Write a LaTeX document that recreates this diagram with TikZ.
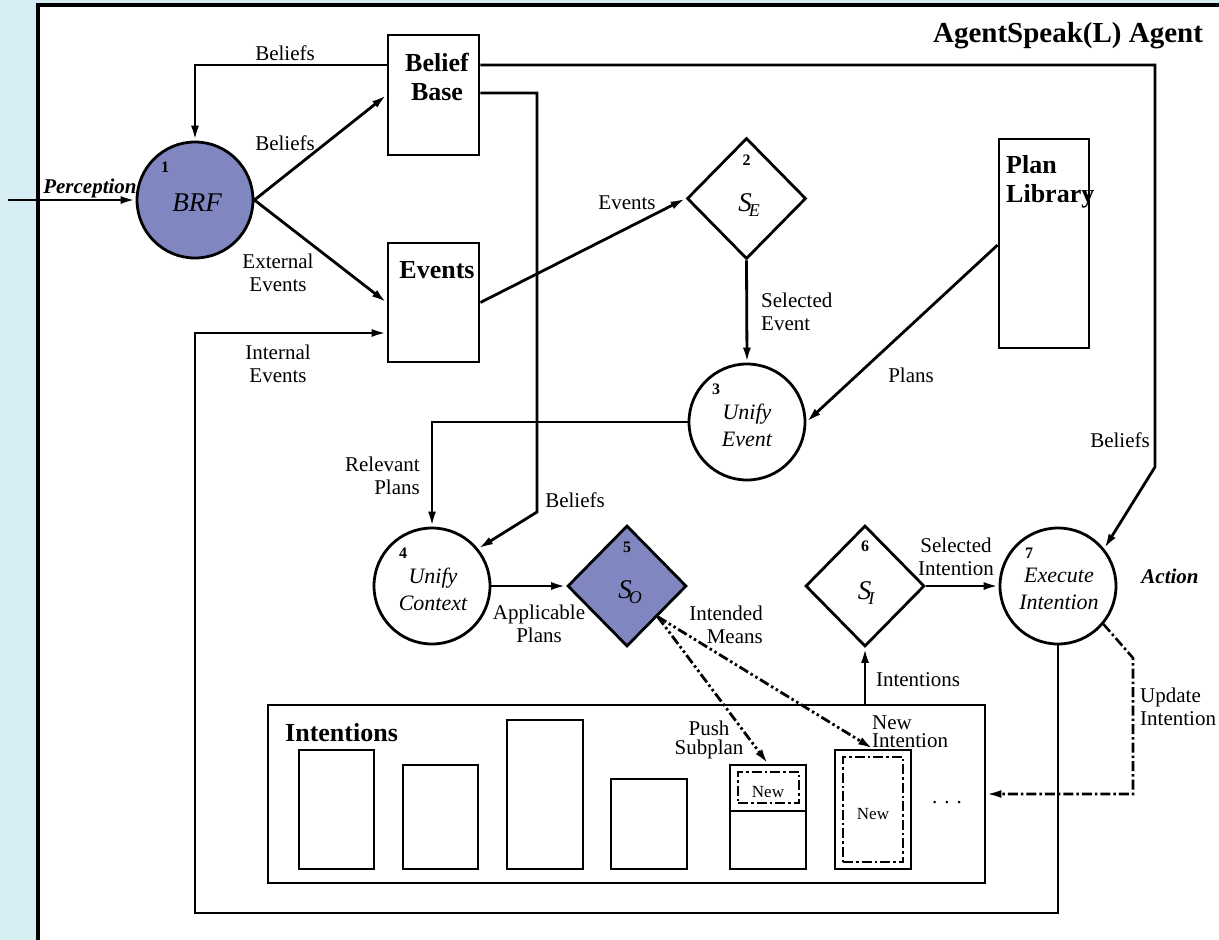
\documentclass[tikz,border=0pt]{standalone}
\usepackage{fontspec}
\setmainfont{Liberation Serif}
\usetikzlibrary{arrows.meta,shapes.geometric}
\definecolor{bgblue}{RGB}{214,238,243}
\definecolor{nodeblue}{RGB}{128,135,192}
\newcommand{\selnode}[1]{{\fontsize{27}{27}\selectfont\itshape S\kern-3pt\raisebox{-5pt}{\fontsize{18}{18}\selectfont #1}}}
\begin{document}
\begin{tikzpicture}[x=1pt,y=-1pt,
  lbl/.style={font=\fontsize{21}{23}\selectfont, inner sep=0pt, align=center},
  numlbl/.style={font=\fontsize{16}{16}\selectfont\bfseries, inner sep=0pt},
  boxlbl/.style={font=\fontsize{26}{29}\selectfont\bfseries, inner sep=0pt, align=center},
  inlbl/.style={font=\fontsize{22}{27}\selectfont\itshape, inner sep=0pt, align=center},
  bx/.style={draw, line width=2.8pt, rectangle, inner sep=0pt},
  ibx/.style={draw, line width=2.5pt, rectangle, inner sep=0pt},
  proc/.style={draw, line width=2.8pt, circle, minimum size=116pt, inner sep=0pt},
  sel/.style={draw, line width=2.8pt, diamond, minimum width=119pt, minimum height=121pt, inner sep=0pt},
  tip/.style={-{Latex[length=15pt,width=8pt]}},
  arr/.style={line width=2.8pt, tip},
  ddd/.style={line width=2.8pt, dash pattern=on 10pt off 3pt on 2.5pt off 3pt on 2.5pt off 3pt},
  dd/.style={line width=2.6pt, dash pattern=on 10pt off 3pt on 2.5pt off 3pt},
]
\useasboundingbox (0,0) rectangle (1219,940);
\clip (0,0) rectangle (1219,940);
\fill[bgblue] (0,0) rectangle (1219,940);
\draw[line width=3.2pt, fill=white] (38,5) rectangle (1240,960);

\node[font=\fontsize{29}{29}\selectfont\bfseries, inner sep=0pt] (title) at (1068,36) {AgentSpeak(L) Agent};

% nodes
\node[proc, fill=nodeblue] (brf) at (195,200) {};
\node[inlbl, font=\fontsize{27}{27}\selectfont\itshape] (brft) at (197,203) {BRF};
\node[numlbl] (n1) at (165,167) {1};

\node[bx, minimum width=91pt, minimum height=120pt] (bb) at (433.5,95) {};
\node[boxlbl] (bbt) at (437,77) {Belief\\Base};

\node[bx, minimum width=91pt, minimum height=119pt] (ev) at (433.5,302.5) {};
\node[boxlbl] (evt) at (437,270) {Events};

\node[sel] (se) at (746.5,198.5) {};
\node[inner sep=0pt] (set) at (749,205) {\selnode{E}};
\node[numlbl] (n2) at (746.5,160) {2};

\node[bx, minimum width=90pt, minimum height=209pt] (pl) at (1044,243.5) {};
\node[boxlbl, align=left, anchor=west] (plt) at (1006,182) {Plan\\Library};

\node[proc] (ue) at (747,422) {};
\node[inlbl] (uet) at (747,425) {Unify\\Event};
\node[numlbl] (n3) at (716,389) {3};

\node[proc] (uc) at (432,586) {};
\node[inlbl] (uct) at (433,589) {Unify\\Context};
\node[numlbl] (n4) at (403,553) {4};

\node[sel, fill=nodeblue] (so) at (627,586) {};
\node[inner sep=0pt] (sot) at (630,592) {\selnode{O}};
\node[numlbl] (n5) at (627,547) {5};

\node[sel] (si) at (865,586) {};
\node[inner sep=0pt] (sit) at (866,593) {\selnode{I}};
\node[numlbl] (n6) at (865,546) {6};

\node[proc] (ex) at (1058,586) {};
\node[inlbl] (ext) at (1059,589) {Execute\\Intention};
\node[numlbl] (n7) at (1029,553) {7};

% intentions
\node[bx, minimum width=717pt, minimum height=178pt] (ib) at (626.5,794) {};
\node[boxlbl, anchor=west] (ibt) at (285,733) {Intentions};
\node[ibx, minimum width=75pt, minimum height=119pt] (i1) at (336.5,809.5) {};
\node[ibx, minimum width=75pt, minimum height=104pt] (i2) at (440.5,817) {};
\node[ibx, minimum width=76pt, minimum height=149pt] (i3) at (545,794.5) {};
\node[ibx, minimum width=76pt, minimum height=90pt] (i4) at (649,824) {};
\node[ibx, minimum width=76pt, minimum height=104pt] (i5) at (768,817) {};
\draw[line width=2.5pt] (i5.west |- 0,811) -- (i5.east |- 0,811);
\node[dd, draw, rectangle, minimum width=61pt, minimum height=31pt, inner sep=0pt] (i5n) at (768.5,787.5) {};
\node[font=\fontsize{17}{17}\selectfont, inner sep=0pt] (i5t) at (768,792) {New};
\node[ibx, minimum width=76pt, minimum height=119pt] (i6) at (873,809.5) {};
\node[dd, draw, rectangle, minimum width=60pt, minimum height=105pt, inner sep=0pt] (i6n) at (873,809.5) {};
\node[font=\fontsize{17}{17}\selectfont, inner sep=0pt] (i6t) at (873,814) {New};
\node[lbl] (dots) at (947,803) {. . .};

% connectors
\coordinate (percstart) at (8,200);
\draw[arr] (percstart) -- (brf.west);
\node[lbl, font=\fontsize{21}{23}\selectfont\bfseries\itshape] (perc) at (90,188) {Perception};

\draw[arr] (bb.west |- 0,65) -| (brf.north);
\node[lbl] (l1) at (285,53) {Beliefs};
\draw[arr] (brf.east) -- (bb.west);
\node[lbl] (l2) at (285,143) {Beliefs};
\draw[arr] (brf.east) -- (ev.west);
\node[lbl] (l3) at (278,273) {External\\Events};

\draw[arr] (bb.east |- 0,65) -- (1155,65) -- (1155,467) -- (ex.39);
\node[lbl] (l4) at (1120,440) {Beliefs};
\draw[arr] (bb.east |- 0,93) -- (537,93) -- (537,512) -- (uc.39);
\node[lbl] (l5) at (575,500) {Beliefs};

\draw[arr] (ev.east) -- (se.west);
\node[lbl] (l6) at (627,203) {Events};
\draw[arr] (se.south) -- (ue.north);
\node[lbl, align=left, anchor=west] (l7) at (761,312) {Selected\\Event};
\draw[arr] (pl.west |- 0,245) -- (ue.east);
\node[lbl] (l8) at (911,375) {Plans};
\draw[arr] (ue.west) -| (uc.north);
\node[lbl, align=right, anchor=east] (l9) at (420,476) {Relevant\\Plans};

\draw[arr] (ex.south) -- (1058,913) -- (195,913) -- (195,333) -- (ev.west |- 0,333);
\node[lbl] (l10) at (278,364) {Internal\\Events};

\draw[arr] (uc.east) -- (so.west);
\node[lbl] (l11) at (539,624) {Applicable\\Plans};
\draw[arr] (si.east) -- (ex.west);
\node[lbl] (l12) at (956,557) {Selected\\Intention};
\draw[arr] (ib.north -| si.south) -- (si.south);
\node[lbl] (l13) at (918,680) {Intentions};
\node[lbl, font=\fontsize{21}{23}\selectfont\bfseries\itshape] (act) at (1170,576) {Action};

\draw[ddd, tip] (so.-45) -- (i5.north);
\draw[ddd, tip] (so.-45) -- (i6.north);
\node[lbl, align=right, anchor=east] (l14) at (763,625) {Intended\\Means};
\node[lbl, font=\fontsize{21}{19}\selectfont] (l15) at (709,740) {Push\\Subplan};
\node[lbl, align=left, anchor=west, font=\fontsize{21}{18}\selectfont] (l16) at (872,732) {New\\Intention};

\draw[dd, tip] (ex.-40) -- (1133,658) -- (1133,794) -- (ib.east |- 0,794);
\node[lbl, align=left, anchor=west] (l17) at (1140,707) {Update\\Intention};
\end{tikzpicture}
\end{document}
